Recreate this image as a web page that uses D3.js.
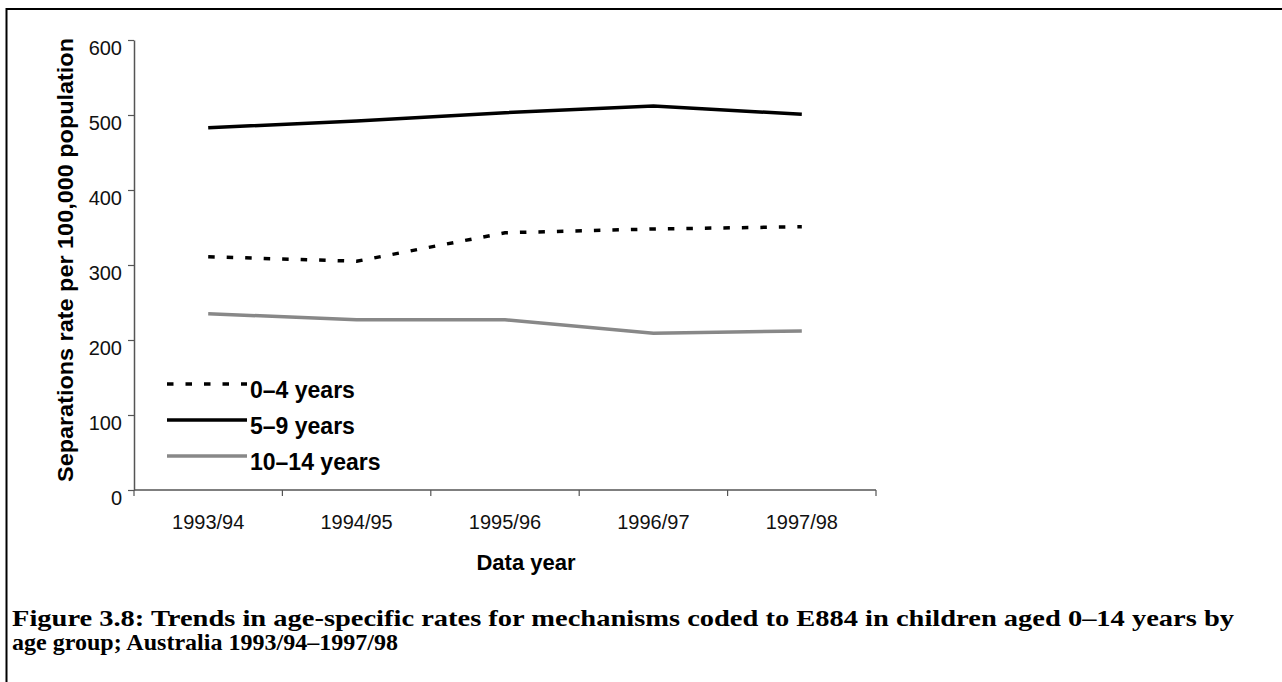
<!DOCTYPE html>
<html>
<head>
<meta charset="utf-8">
<script src="https://cdn.jsdelivr.net/npm/d3@7"></script>
<style>
  html, body { margin: 0; padding: 0; background: #fff; }
  svg { display: block; }
</style>
</head>
<body>
<svg id="chart" width="1282" height="682"></svg>
<script>
// ---- data ----
const categories = ["1993/94", "1994/95", "1995/96", "1996/97", "1997/98"];
const seriesNames = ["0–4 years", "5–9 years", "10–14 years"];
const age0to4 = [311, 305, 343, 348, 351];
const age5to9 = [483, 492, 503, 512, 501];
const age10to14 = [235, 227, 227, 209, 212];
const yTicks = [0, 100, 200, 300, 400, 500, 600];
const xTitle = "Data year";
const yTitle = "Separations rate per 100,000 population";
const titleLines = [
  "Figure 3.8: Trends in age-specific rates for mechanisms coded to E884 in children aged 0–14 years by",
  "age group; Australia 1993/94–1997/98"
];

const seriesValues = [age0to4, age5to9, age10to14];
const seriesStyle = [
  { color: "#000", dash: "6.5,12" },
  { color: "#000", dash: null },
  { color: "#888", dash: null }
];

const svg = d3.select("#chart");
const W = 1282, H = 682;

// frame
svg.append("line").attr("x1", 6.5).attr("x2", 6.5).attr("y1", 8).attr("y2", H)
  .attr("stroke", "#000").attr("stroke-width", 2);
svg.append("line").attr("x1", 6).attr("x2", W).attr("y1", 9).attr("y2", 9)
  .attr("stroke", "#000").attr("stroke-width", 2);

const x = d3.scaleBand().domain(categories).range([134, 876]).padding(0);
const y = d3.scaleLinear().domain([0, 600]).range([490, 40]);
const cx = d => x(d) + x.bandwidth() / 2;

const font = "'Liberation Sans', Arial, sans-serif";
const axisColor = "#555";

// y axis
const yAxis = d3.axisLeft(y).tickValues(yTicks).tickSize(6).tickSizeOuter(0).tickFormat(d3.format("d"));
const gy = svg.append("g").attr("transform", "translate(134,0)").call(yAxis);
gy.select(".domain").attr("stroke", axisColor).attr("stroke-width", 1.5);
gy.selectAll(".tick line").attr("stroke", axisColor).attr("stroke-width", 1.2);
gy.selectAll(".tick text")
  .attr("x", -12).attr("dy", "0.72em").attr("y", 0)
  .style("font-family", font).style("font-size", "20px").attr("fill", "#111");

// x axis
const gx = svg.append("g");
gx.append("line").attr("x1", x.range()[0]).attr("x2", x.range()[1])
  .attr("y1", y(0)).attr("y2", y(0)).attr("stroke", axisColor).attr("stroke-width", 1.5);
const bounds = categories.map(c => x(c)).concat([x.range()[1]]);
gx.selectAll("line.xt").data(bounds).join("line").attr("class", "xt")
  .attr("x1", d => d).attr("x2", d => d).attr("y1", y(0)).attr("y2", y(0) + 6)
  .attr("stroke", axisColor).attr("stroke-width", 1.2);
gx.selectAll("text.xl").data(categories).join("text").attr("class", "xl")
  .attr("x", d => cx(d)).attr("y", 529).attr("text-anchor", "middle")
  .style("font-family", font).style("font-size", "20px").attr("fill", "#111")
  .text(d => d);

// axis titles
svg.append("text").attr("x", 526).attr("y", 570).attr("text-anchor", "middle")
  .style("font-family", font).style("font-size", "22px").style("font-weight", "bold")
  .text(xTitle);
svg.append("text").attr("transform", "translate(73,260) rotate(-90)")
  .attr("text-anchor", "middle")
  .style("font-family", font).style("font-size", "22px").style("font-weight", "bold")
  .attr("textLength", 444).attr("lengthAdjust", "spacingAndGlyphs")
  .text(yTitle);

// lines
const line = d3.line().x((d, i) => cx(categories[i])).y(d => y(d));
seriesValues.forEach((vals, k) => {
  svg.append("path").datum(vals)
    .attr("d", line)
    .attr("fill", "none")
    .attr("stroke", seriesStyle[k].color)
    .attr("stroke-width", 3.5)
    .attr("stroke-dasharray", seriesStyle[k].dash);
});

// legend
const legY = [384, 420, 456];
seriesNames.forEach((name, k) => {
  svg.append("line").attr("x1", 167).attr("x2", 247)
    .attr("y1", legY[k]).attr("y2", legY[k])
    .attr("stroke", seriesStyle[k].color).attr("stroke-width", 3.5)
    .attr("stroke-dasharray", seriesStyle[k].dash);
  svg.append("text").attr("x", 250).attr("y", legY[k] + 14)
    .style("font-family", font).style("font-size", "23px").style("font-weight", "bold")
    .text(name);
});

// caption
const capFont = "'Liberation Serif', 'DejaVu Serif', serif";
svg.append("text").attr("x", 12).attr("y", 626)
  .style("font-family", capFont).style("font-size", "24px").style("font-weight", "bold")
  .attr("textLength", 1222).attr("lengthAdjust", "spacingAndGlyphs")
  .text(titleLines[0]);
svg.append("text").attr("x", 12).attr("y", 650)
  .style("font-family", capFont).style("font-size", "24px").style("font-weight", "bold")
  .attr("textLength", 386).attr("lengthAdjust", "spacingAndGlyphs")
  .text(titleLines[1]);
</script>
</body>
</html>
